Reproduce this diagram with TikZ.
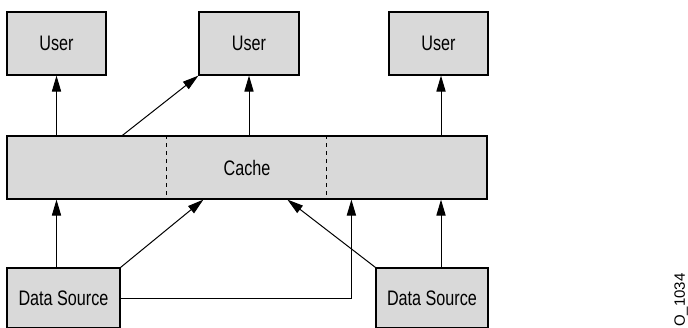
\documentclass[tikz,border=0pt]{standalone}
\usepackage{fontspec}
\setmainfont{Liberation Sans}[FakeStretch=0.77]
\newfontfamily\tagfont{Liberation Sans}
\usetikzlibrary{arrows.meta,positioning,calc}

\definecolor{boxgray}{HTML}{D9D9D9}
\tikzset{
  box/.style={draw,fill=boxgray,line width=0.6pt,inner sep=0pt,font=\fontsize{10.5}{12}\selectfont},
  arr/.style={-{Triangle[length=8pt,width=4.6pt]},line width=0.5pt},
}

\begin{document}
\begin{tikzpicture}[x=0.5pt,y=-0.5pt]
  \useasboundingbox (0,0) rectangle (688,327);
  % Users on top
  \path (56.5,43.5) node[box,minimum width=49.5pt,minimum height=31.5pt] (U1) {User};
  \path (249,43.5) node[box,minimum width=50pt,minimum height=31.5pt] (U2) {User};
  \path (438.5,43.5) node[box,minimum width=49.5pt,minimum height=31.5pt] (U3) {User};
  % Cache in the middle
  \path (247,167.5) node[box,minimum width=240pt,minimum height=31.5pt] (C) {Cache};
  \draw[dashed,dash pattern=on 2pt off 2pt,line width=0.5pt] ([xshift=80pt]C.north west) -- ([xshift=80pt]C.south west);
  \draw[dashed,dash pattern=on 2pt off 2pt,line width=0.5pt] ([xshift=160pt]C.north west) -- ([xshift=160pt]C.south west);
  % Data sources at the bottom
  \path (63.5,298) node[box,minimum width=56.5pt,minimum height=30pt] (D1) {Data Source};
  \path (432,298) node[box,minimum width=56pt,minimum height=30pt] (D2) {Data Source};
  \coordinate (colR) at (441,0);
  % Cache to users
  \draw[arr] (U1.south |- C.north) -- (U1.south);
  \draw[arr] ([xshift=58pt]C.north west) -- (U2.south west);
  \draw[arr] (U2.south |- C.north) -- (U2.south);
  \draw[arr] (colR |- C.north) -- (colR |- U3.south);
  % Data sources to cache
  \draw[arr] (U1.south |- D1.north) -- (U1.south |- C.south);
  \draw[arr] (D1.north east) -- ([xshift=98.5pt]C.south west);
  \draw[arr] (D1.east) -| ([xshift=172.5pt]C.south west);
  \draw[arr] (D2.north west) -- ([xshift=140.5pt]C.south west);
  \draw[arr] (colR |- D2.north) -- (colR |- C.south);
  % figure tag
  \node[rotate=90,anchor=east,inner sep=0pt,font=\tagfont\fontsize{7.5}{9}\selectfont] (tag) at (681,273) {O\_1034};
\end{tikzpicture}
\end{document}
